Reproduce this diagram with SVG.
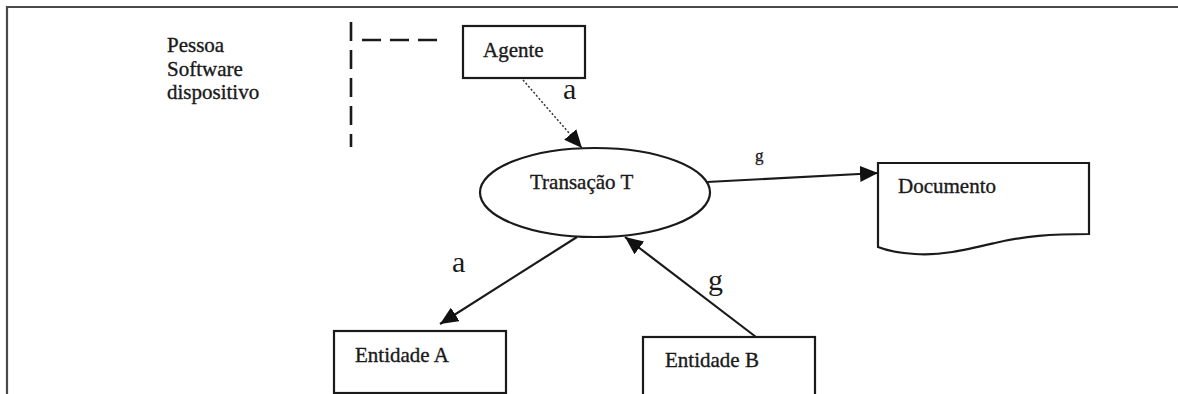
<svg xmlns="http://www.w3.org/2000/svg" width="1178" height="394" viewBox="0 0 1178 394">
  <defs>
    <style>
      .frame { stroke: #4a4a4a; stroke-width: 2.2; fill: none; }
      .box { fill: #ffffff; stroke: #1a1a1a; stroke-width: 2.2; }
      .txt { font-family: "Liberation Serif", "Times New Roman", serif; font-size: 21px; fill: #1a1a1a; stroke: #1a1a1a; stroke-width: 0.35; }
      .lbl { font-family: "Liberation Serif", "Times New Roman", serif; font-size: 30px; fill: #1a1a1a; }
      .lbl-s { font-family: "Liberation Serif", "Times New Roman", serif; font-size: 17px; fill: #1a1a1a; stroke: #1a1a1a; stroke-width: 0.3; }
      .edge { stroke: #1a1a1a; stroke-width: 2.2; fill: none; marker-end: url(#arrow); }
      .dotted { stroke: #333333; stroke-width: 1.5; stroke-dasharray: 2 2; fill: none; marker-end: url(#arrow); }
      .dash { stroke: #1a1a1a; stroke-width: 2.6; stroke-dasharray: 19 9; fill: none; }
    </style>
    <marker id="arrow" viewBox="0 0 18 16" refX="18" refY="8" markerWidth="18" markerHeight="16" markerUnits="userSpaceOnUse" orient="auto">
      <path d="M0,0 L18,8 L0,16 z" fill="#111111"/>
    </marker>
  </defs>

  <rect width="1178" height="394" fill="#ffffff"/>

  <!-- page frame: top and left rules -->
  <path class="frame" d="M7,394 V7 H1178"/>

  <!-- kinds of agent -->
  <g id="agent-kinds">
    <text class="txt" x="167" y="52">Pessoa</text>
    <text class="txt" x="167" y="76">Software</text>
    <text class="txt" x="167" y="99">dispositivo</text>
    <path class="dash" d="M351,22 V147"/>
    <path class="dash" d="M362,40 H440"/>
  </g>

  <g id="agente">
    <rect class="box" x="463" y="26" width="122" height="52"/>
    <text class="txt" x="483" y="57">Agente</text>
  </g>

  <g id="transacao">
    <ellipse class="box" cx="595" cy="192.5" rx="115" ry="44.5"/>
    <text class="txt" x="530" y="189">Transação T</text>
  </g>

  <g id="documento">
    <path class="box" d="M878,163 H1089 V234 C1050,234 1025,236 995,243 C965,250 940,256 915,254 C900,253 888,251 878,247 Z"/>
    <text class="txt" x="898" y="193">Documento</text>
  </g>

  <g id="entidade-a">
    <rect class="box" x="334" y="331" width="172" height="62"/>
    <text class="txt" x="355" y="362">Entidade A</text>
  </g>

  <g id="entidade-b">
    <rect class="box" x="643" y="337" width="172" height="70"/>
    <text class="txt" x="665" y="367">Entidade B</text>
  </g>

  <g id="connectors">
    <path class="dotted" d="M523,80 L582,148"/>
    <path class="edge" d="M707,182 L878,173"/>
    <path class="edge" d="M577,237 L440,324"/>
    <path class="edge" d="M756,337 L625,237"/>
    <text class="lbl" x="563" y="99">a</text>
    <text class="lbl-s" x="755" y="161">g</text>
    <text class="lbl" x="452" y="272">a</text>
    <text class="lbl" x="708" y="290">g</text>
  </g>
</svg>
